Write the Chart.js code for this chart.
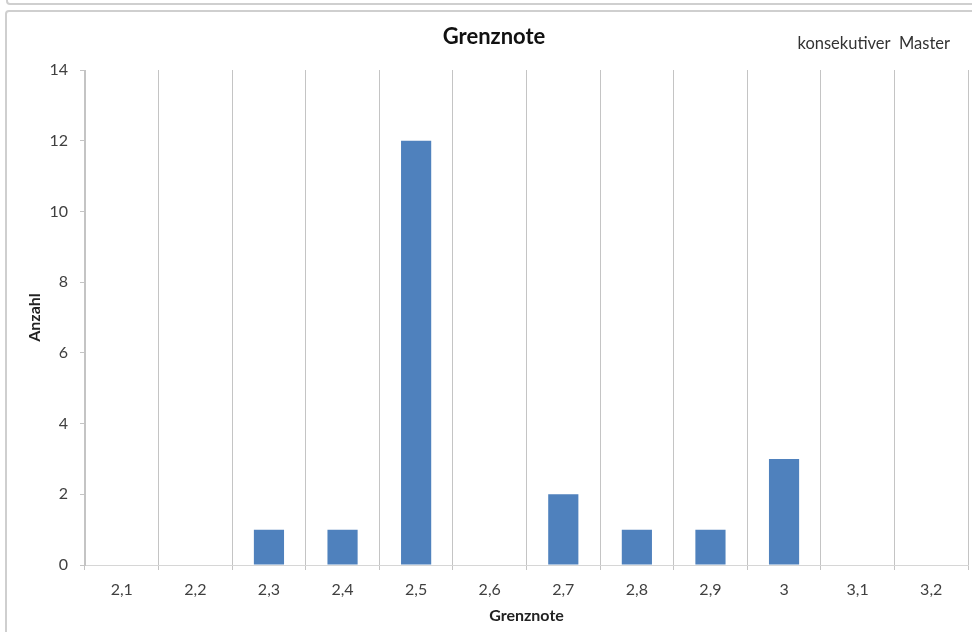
<!DOCTYPE html>
<html>
<head>
<meta charset="utf-8">
<script src="https://cdn.jsdelivr.net/npm/chart.js@4/dist/chart.umd.min.js"></script>
<style>
  html, body { margin: 0; padding: 0; background: #fff; overflow: hidden; }
  .box { position: absolute; border: 2px solid #cfcfcf; border-radius: 4px; box-sizing: border-box; }
  #prev { left: 6px; top: -30px; width: 1000px; height: 35px; }
  #frame { left: 5px; top: 10px; width: 1000px; height: 650px; }
  #c { position: absolute; left: 0; top: 0; }
</style>
</head>
<body>
<div class="box" id="prev"></div>
<div class="box" id="frame"></div>
<canvas id="c" width="972" height="632"></canvas>
<script>
const categories = ['2,1', '2,2', '2,3', '2,4', '2,5', '2,6', '2,7', '2,8', '2,9', '3', '3,1', '3,2'];
const counts = [0, 0, 1, 1, 12, 0, 2, 1, 1, 3, 0, 0];
const chartTitle = 'Grenznote';
const noteText = 'konsekutiver  Master';

const FONT = 'Lato, "Open Sans", sans-serif';

// title + corner note, placed like the original sheet
const headerText = {
  id: 'headerText',
  afterDraw(chart) {
    const c = chart.ctx;
    c.save();
    c.fillStyle = '#111';
    c.textBaseline = 'alphabetic';
    c.font = 'bold 22px ' + FONT;
    c.textAlign = 'center';
    c.fillText(chartTitle, 494, 44);
    c.fillStyle = '#333';
    c.font = '16.5px ' + FONT;
    c.textAlign = 'right';
    c.fillText(noteText, 950, 49);
    c.restore();
  }
};

new Chart(document.getElementById('c'), {
  type: 'bar',
  data: {
    labels: categories,
    datasets: [{
      label: 'Anzahl',
      data: counts,
      backgroundColor: '#4f81bd',
      borderWidth: 0,
      barPercentage: 0.41,
      categoryPercentage: 1
    }]
  },
  options: {
    responsive: false,
    animation: false,
    layout: { padding: { top: 70, right: 4, bottom: 7, left: 25 } },
    scales: {
      x: {
        afterFit(scale) { scale.height = 60; },
        grid: { color: '#c4c4c4', tickLength: 5, offset: true },
        border: { color: '#d6d6d6' },
        ticks: { color: '#404040', font: { family: FONT, size: 16 }, padding: 10 },
        title: { display: true, text: 'Grenznote', color: '#222', font: { family: FONT, size: 16, weight: 'bold' }, padding: { top: 0, bottom: 0 } }
      },
      y: {
        min: 0,
        max: 14,
        afterFit(scale) { scale.width = 60; },
        grid: { drawOnChartArea: false, color: '#c4c4c4', tickLength: 5 },
        border: { color: '#c4c4c4' },
        ticks: { stepSize: 2, color: '#404040', font: { family: FONT, size: 16 }, padding: 12 },
        title: { display: true, text: 'Anzahl', color: '#222', font: { family: FONT, size: 16, weight: 'bold' }, padding: { top: 0, bottom: 0 } }
      }
    },
    plugins: {
      legend: { display: false },
      tooltip: { enabled: false }
    }
  },
  plugins: [headerText]
});
</script>
</body>
</html>
